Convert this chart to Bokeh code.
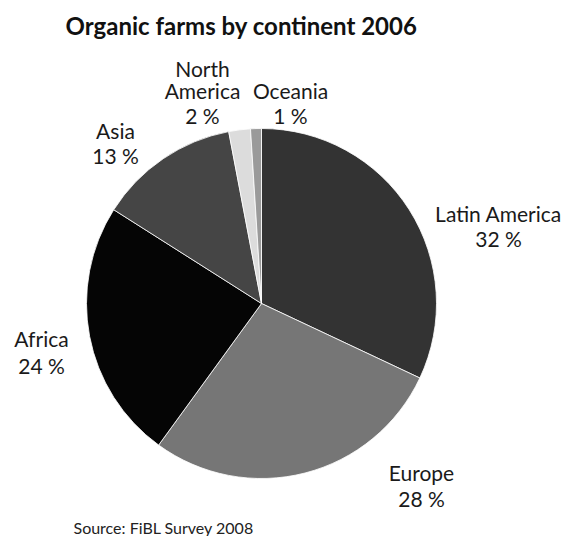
import math
from bokeh.plotting import figure
from bokeh.models import ColumnDataSource, Range1d
from bokeh.core.properties import value
from bokeh.embed import file_html
from bokeh.resources import INLINE

# ---- data ----
continents = ["Latin America", "Europe", "Africa", "Asia", "North America", "Oceania"]
shares = [32, 28, 24, 13, 2, 1]
share_labels = ["32 %", "28 %", "24 %", "13 %", "2 %", "1 %"]
colors = ["#333333", "#767676", "#050505", "#454545", "#dcdcdc", "#9a9a9a"]
title_text = "Organic farms by continent 2006"
source_text = "Source: FiBL Survey 2008"

# ---- layout (pixel space, y measured from top) ----
W, H = 565, 536
cx, cy_top, R = 261, 303, 175
# label anchor: x centre, baselines of name lines, baseline of pct line
label_pos = {
    "Latin America": (498, [213], 238),
    "Europe": (421, [472], 498),
    "Africa": (41, [338], 365),
    "Asia": (115, [130], 155),
    "North America": (202, [68, 90], 115),
    "Oceania": (290, [90], 115),
}

def Y(y):
    return H - y

p = figure(width=W, height=H, output_backend="svg", toolbar_location=None,
           x_range=Range1d(0, W), y_range=Range1d(0, H), min_border=0)
p.axis.visible = False
p.grid.visible = False
p.outline_line_color = None
p.background_fill_color = "white"
p.border_fill_color = "white"

total = sum(shares)
starts, ends = [], []
acc = 0
for s in shares:
    starts.append(math.pi / 2 - 2 * math.pi * acc / total)
    acc += s
    ends.append(math.pi / 2 - 2 * math.pi * acc / total)

src = ColumnDataSource(dict(x=[cx] * len(shares), y=[Y(cy_top)] * len(shares),
                            start=starts, end=ends, color=colors))
p.wedge(x="x", y="y", radius=R, start_angle="start", end_angle="end",
        direction="clock", fill_color="color", line_color="white",
        line_width=0.8, source=src)

font = value("Lato")
tx, ty, tt = [], [], []
for name, pct in zip(continents, share_labels):
    lx, name_ys, pct_y = label_pos[name]
    parts = ["North", "America"] if name == "North America" else [name]
    for part, yy in zip(parts, name_ys):
        tx.append(lx); ty.append(Y(yy)); tt.append(part)
    tx.append(lx); ty.append(Y(pct_y)); tt.append(pct)
p.text(x=tx, y=ty, text=tt, text_align="center", text_baseline="alphabetic",
       text_font=font, text_font_size="21px", text_color="#1a1a1a")

p.text(x=[241], y=[Y(25)], text=[title_text], text_align="center",
       text_baseline="alphabetic", text_font=font, text_font_size="24px",
       text_font_style="bold", text_color="#111111")
p.text(x=[73], y=[Y(527)], text=[source_text], text_align="left",
       text_baseline="alphabetic", text_font=font, text_font_size="16px",
       text_color="#222222")

open("out.html", "w").write(file_html(p, INLINE))
